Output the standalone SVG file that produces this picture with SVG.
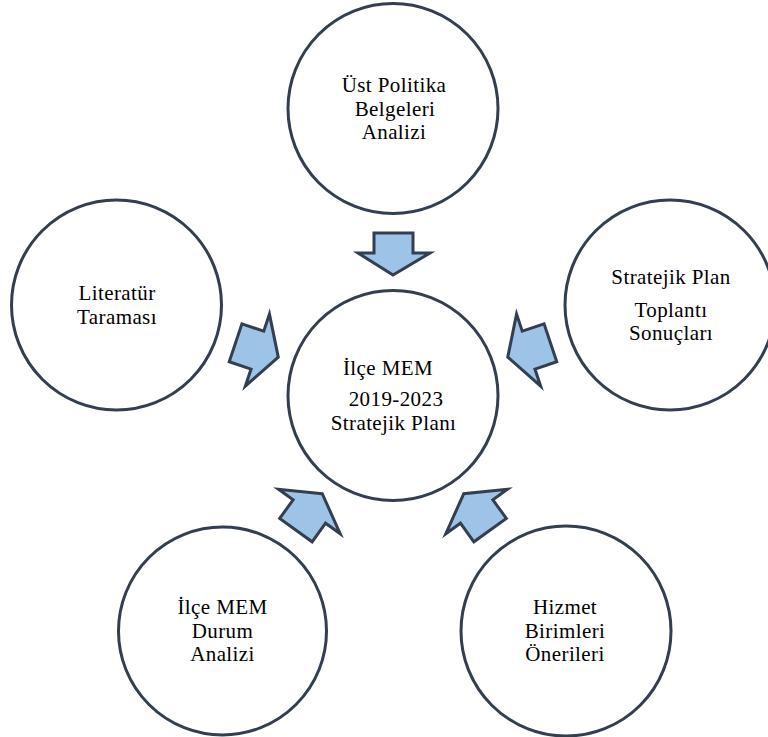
<svg xmlns="http://www.w3.org/2000/svg" xmlns:xlink="http://www.w3.org/1999/xlink" width="768" height="737" viewBox="0 0 768 737">
  <style>
    .node { fill: #FFFFFF; stroke: #333F50; stroke-width: 3; }
    .arrow { fill: #9DC3E6; stroke: #333F50; stroke-width: 3; stroke-linejoin: miter; }
    .label { font-family: "Liberation Serif", "Times New Roman", serif; font-size: 21px; fill: #000000; text-anchor: middle; letter-spacing: 0.4px; }
  </style>
  <defs>
    <path id="arrowShape" d="M 0 0 L 38 -22 L 20 -22 L 20 -45 L -20 -45 L -20 -22 L -38 -22 Z"/>
  </defs>
  <rect x="0" y="0" width="768" height="737" fill="#FFFFFF"/>

  <g id="connectors">
    <polygon class="arrow" points="374,233 413,233 413,253 430,253 393,275 358,253 374,253"/>
    <use xlink:href="#arrowShape" class="arrow" transform="translate(393,395.5) rotate(-71.5) translate(0,-121)"/>
    <use xlink:href="#arrowShape" class="arrow" transform="translate(393,395.5) rotate(71.5) translate(0,-121)"/>
    <use xlink:href="#arrowShape" class="arrow" transform="translate(393,395.5) rotate(-144.2) translate(0,-121)"/>
    <use xlink:href="#arrowShape" class="arrow" transform="translate(393,395.5) rotate(144.2) translate(0,-121)"/>
  </g>

  <g id="node-top">
    <circle class="node" cx="393" cy="108.5" r="105"/>
    <text class="label" x="394" y="92">Üst Politika</text>
    <text class="label" x="395" y="116">Belgeleri</text>
    <text class="label" x="394" y="139">Analizi</text>
  </g>

  <g id="node-left">
    <circle class="node" cx="116.5" cy="305" r="105"/>
    <text class="label" x="117" y="300">Literatür</text>
    <text class="label" x="117" y="324">Taraması</text>
  </g>

  <g id="node-right">
    <circle class="node" cx="670" cy="305" r="105"/>
    <text class="label" x="671" y="284">Stratejik Plan</text>
    <text class="label" x="671" y="317">Toplantı</text>
    <text class="label" x="671" y="340">Sonuçları</text>
  </g>

  <g id="node-center">
    <circle class="node" cx="393" cy="395.5" r="105"/>
    <text class="label" x="388" y="375">İlçe MEM</text>
    <text class="label" x="396" y="406">2019-2023</text>
    <text class="label" x="393.5" y="430">Stratejik Planı</text>
  </g>

  <g id="node-bottom-left">
    <circle class="node" cx="222.5" cy="631" r="104"/>
    <text class="label" x="222.5" y="614">İlçe MEM</text>
    <text class="label" x="222.5" y="638">Durum</text>
    <text class="label" x="222.5" y="661">Analizi</text>
  </g>

  <g id="node-bottom-right">
    <circle class="node" cx="566" cy="631" r="105"/>
    <text class="label" x="565" y="614">Hizmet</text>
    <text class="label" x="565" y="638">Birimleri</text>
    <text class="label" x="565" y="661">Önerileri</text>
  </g>
</svg>
